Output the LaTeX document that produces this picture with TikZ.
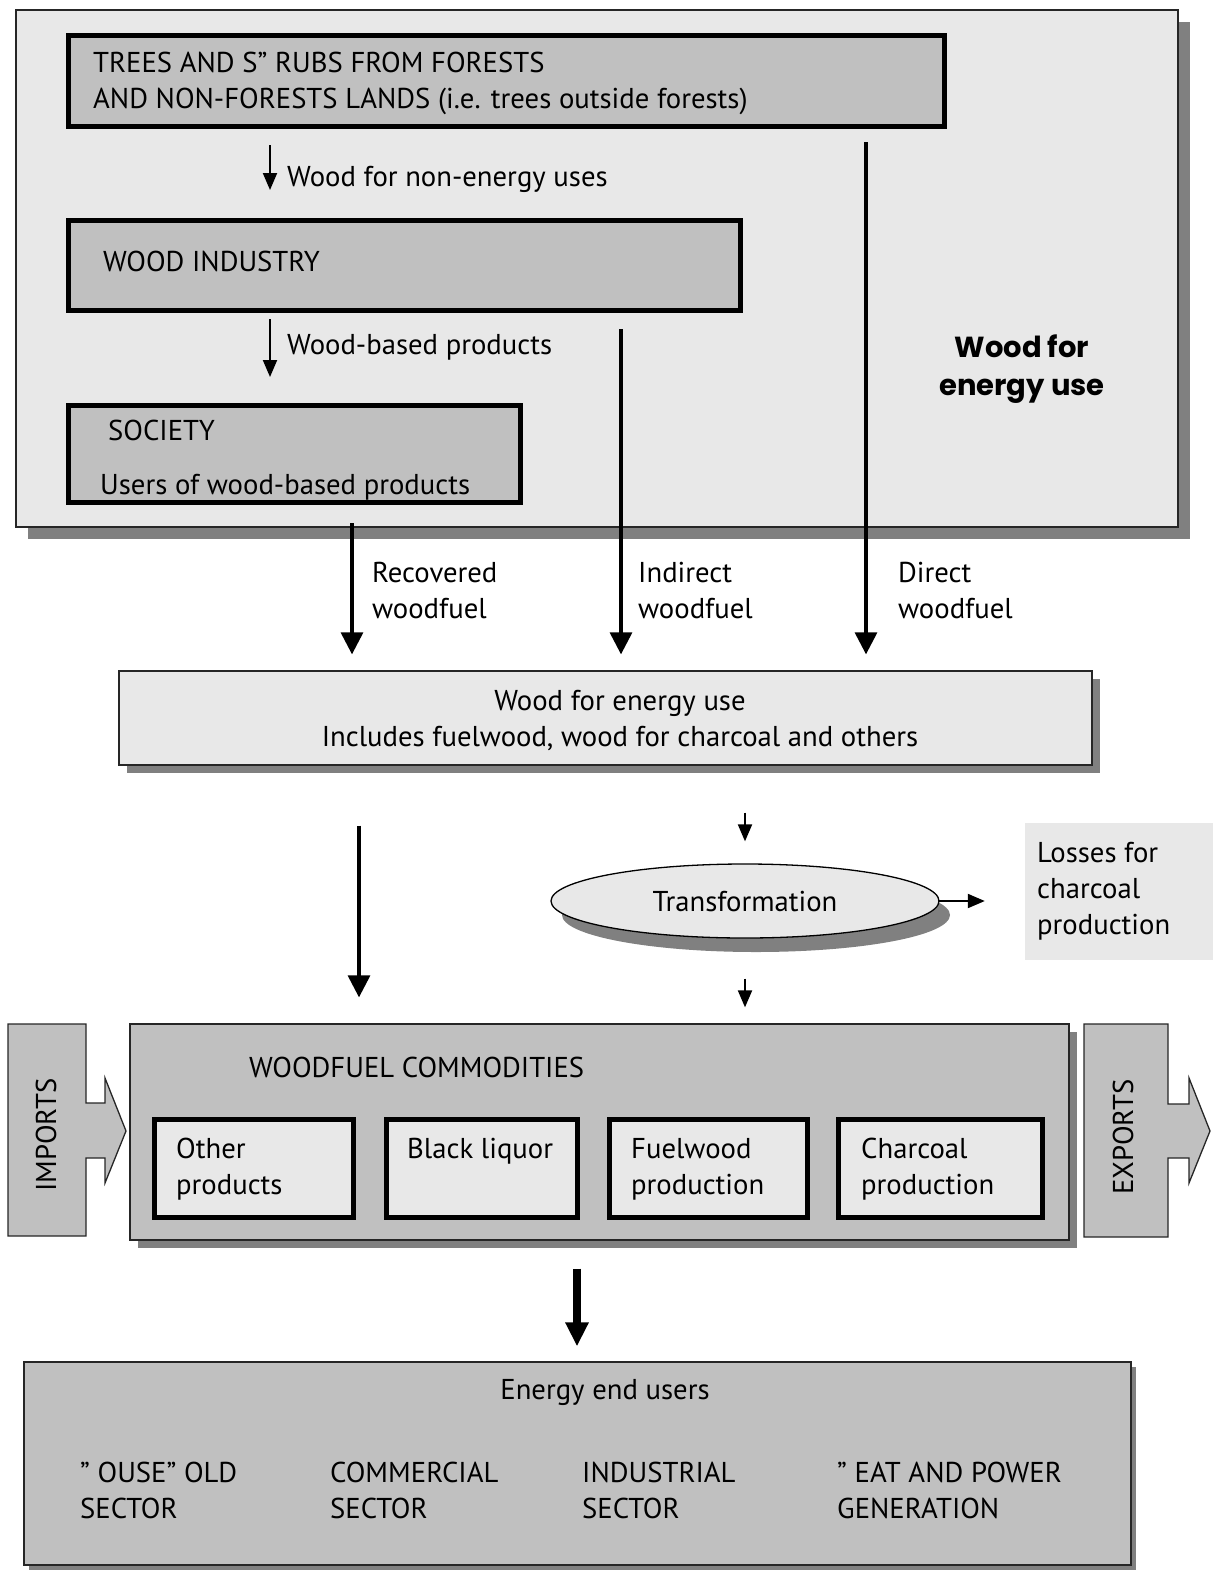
\documentclass[tikz,border=0pt]{standalone}
\usepackage{fontspec}
\setmainfont{PT Sans}
\newfontfamily\heavyfont{Poppins}
\usetikzlibrary{arrows.meta,shapes.geometric,shadows}
\definecolor{lightg}{HTML}{E8E8E8}
\definecolor{midg}{HTML}{C0C0C0}
\definecolor{shadg}{HTML}{808080}
\newcommand{\fsz}{\fontsize{28.7}{36}\selectfont}
\begin{document}
\begin{tikzpicture}[x=1pt,y=-1pt,
  txt/.style={inner sep=0pt, text height=20pt, text depth=0pt, font=\fsz, anchor=west},
  ctxt/.style={inner sep=0pt, text height=20pt, text depth=0pt, font=\fsz, anchor=center},
  shad/.style={drop shadow={shadow xshift=#1, shadow yshift=-#1, fill=shadg, opacity=1}},
  panel/.style={draw=black!85, line width=1.3pt, fill=lightg, inner sep=0pt},
  graybox/.style={draw=black!85, line width=1.3pt, fill=midg, inner sep=0pt},
  thickbox/.style={draw=black, line width=5pt, fill=midg, inner sep=0pt},
  thicklight/.style={draw=black, line width=5pt, fill=lightg, inner sep=0pt},
  arrS/.style={line width=2pt, -{Triangle[width=14pt,length=17pt]}},
  arrM/.style={line width=3.2pt, -{Triangle[width=22pt,length=22pt]}},
  arrB/.style={line width=8pt, -{Triangle[width=22pt,length=24pt]}},
  blockarrow/.style={draw=black!85, line width=1.3pt, fill=midg}
]
\useasboundingbox (0,0) rectangle (1216,1571);

% top panel
\node[panel, shad=12pt, minimum width=1162pt, minimum height=517pt] (panel) at (597,268.5) {};
\node[thickbox, minimum width=876pt, minimum height=91pt] (trees) at (506.5,81) {};
\node[thickbox, minimum width=672pt, minimum height=90pt] (woodind) at (404.5,265.5) {};
\node[thickbox, minimum width=452pt, minimum height=97pt] (society) at (294.5,454) {};

\node[txt] (t1) at (93,62) {TREES AND S” RUBS FROM FORESTS};
\node[txt] (t2) at (93,98) {AND NON-FORESTS LANDS (i.e. trees outside forests)};
\node[txt] (t3) at (287,176) {Wood for non-energy uses};
\node[txt] (t4) at (103,261) {WOOD INDUSTRY};
\node[txt] (t5) at (287,344) {Wood-based products};
\node[txt] (t6) at (108,430) {SOCIETY};
\node[txt] (t7) at (100,484) {Users of wood-based products};
\node[ctxt, font=\heavyfont\bfseries\fontsize{29}{36}\selectfont] (t8) at (1022,347) {Wood for};
\node[ctxt, font=\heavyfont\bfseries\fontsize{29}{36}\selectfont] (t9) at (1022,385) {energy use};

% energy box
\node[panel, shad=8pt, minimum width=973pt, minimum height=94pt] (energy) at (605.5,718) {};
\node[ctxt] (e1) at (620,700) {Wood for energy use};
\node[ctxt] (e2) at (620,736) {Includes fuelwood, wood for charcoal and others};

% coordinates for vertical arrows
\coordinate (xa) at (270,0);
\coordinate (xrec) at (352,0);
\coordinate (xind) at (621,0);
\coordinate (xdir) at (866,0);
\coordinate (xl) at (359,0);
\coordinate (xt) at (745,0);
\coordinate (xb) at (577,0);

\draw[arrS, shorten <=16pt, shorten >=28pt] (trees.south -| xa) -- (woodind.north -| xa);
\draw[arrS, shorten <=6pt, shorten >=26pt] (woodind.south -| xa) -- (society.north -| xa);
\draw[arrM, shorten <=18pt, shorten >=16pt] (society.south -| xrec) -- (energy.north -| xrec);
\draw[arrM, shorten <=16pt, shorten >=16pt] (woodind.south -| xind) -- (energy.north -| xind);
\draw[arrM, shorten <=13pt, shorten >=16pt] (trees.south -| xdir) -- (energy.north -| xdir);

\node[txt] (r1) at (372,572) {Recovered};
\node[txt] (r2) at (372,608) {woodfuel};
\node[txt] (i1) at (638,572) {Indirect};
\node[txt] (i2) at (638,608) {woodfuel};
\node[txt] (d1) at (898,572) {Direct};
\node[txt] (d2) at (898,608) {woodfuel};

% transformation
\node[ellipse, draw=black, line width=1.3pt, fill=lightg, inner sep=0pt,
      minimum width=388pt, minimum height=74pt,
      drop shadow={shadow xshift=11pt, shadow yshift=-14pt, fill=shadg, opacity=1}] (transf) at (745,901) {};
\node[ctxt] (tt) at (745,901) {Transformation};
\node[fill=lightg, inner sep=0pt, minimum width=188pt, minimum height=137pt] (losses) at (1119,891.5) {};
\node[txt] (l1) at (1037,852) {Losses for};
\node[txt] (l2) at (1037,888) {charcoal};
\node[txt] (l3) at (1037,924) {production};

% commodities
\node[graybox, shad=8pt, minimum width=939pt, minimum height=216pt] (commod) at (599.5,1132) {};
\node[txt] (c0) at (249,1067) {WOODFUEL COMMODITIES};
\node[thicklight, minimum width=199pt, minimum height=98pt] (b1) at (254,1168.5) {};
\node[thicklight, minimum width=191pt, minimum height=98pt] (b2) at (482,1168.5) {};
\node[thicklight, minimum width=198pt, minimum height=98pt] (b3) at (708.5,1168.5) {};
\node[thicklight, minimum width=204pt, minimum height=98pt] (b4) at (940.5,1168.5) {};
\node[txt] (b1a) at (176,1148) {Other};
\node[txt] (b1b) at (176,1184) {products};
\node[txt] (b2a) at (407,1148) {Black liquor};
\node[txt] (b3a) at (631,1148) {Fuelwood};
\node[txt] (b3b) at (631,1184) {production};
\node[txt] (b4a) at (861,1148) {Charcoal};
\node[txt] (b4b) at (861,1184) {production};

\draw[arrM, shorten <=60pt, shorten >=26pt] (energy.south -| xl) -- (commod.north -| xl);
\draw[arrS, shorten <=47pt, shorten >=22pt] (energy.south -| xt) -- (transf.north);
\draw[arrS, shorten <=40pt, shorten >=16pt] (transf.south) -- (commod.north -| xt);
\draw[arrS, shorten <=-2pt, shorten >=40pt] (transf.east) -- (losses.west |- transf.east);

% imports / exports
\draw[blockarrow] (8,1024) -- (86,1024) -- (86,1103) -- (105,1103) -- (105,1078) -- (126,1131)
   -- (105,1183) -- (105,1158) -- (86,1158) -- (86,1236) -- (8,1236) -- cycle;
\node[ctxt, rotate=90] (imp) at (46,1135) {IMPORTS};
\draw[blockarrow] (1084,1024) -- (1168,1024) -- (1168,1104) -- (1189,1104) -- (1189,1078) -- (1210,1131)
   -- (1189,1183) -- (1189,1158) -- (1168,1158) -- (1168,1237) -- (1084,1237) -- cycle;
\node[ctxt, rotate=90] (exp) at (1123,1137) {EXPORTS};

% end users
\node[graybox, shad=5pt, minimum width=1107pt, minimum height=203pt] (endu) at (577.5,1463.5) {};
\draw[arrB, shorten <=28pt, shorten >=15pt] (commod.south -| xb) -- (endu.north -| xb);
\node[ctxt] (u0) at (605,1389) {Energy end users};
\node[txt] (u1a) at (80,1472) {” OUSE” OLD};
\node[txt] (u1b) at (80,1508) {SECTOR};
\node[txt] (u2a) at (330,1472) {COMMERCIAL};
\node[txt] (u2b) at (330,1508) {SECTOR};
\node[txt] (u3a) at (582,1472) {INDUSTRIAL};
\node[txt] (u3b) at (582,1508) {SECTOR};
\node[txt] (u4a) at (837,1472) {” EAT AND POWER};
\node[txt] (u4b) at (837,1508) {GENERATION};
\end{tikzpicture}
\end{document}
